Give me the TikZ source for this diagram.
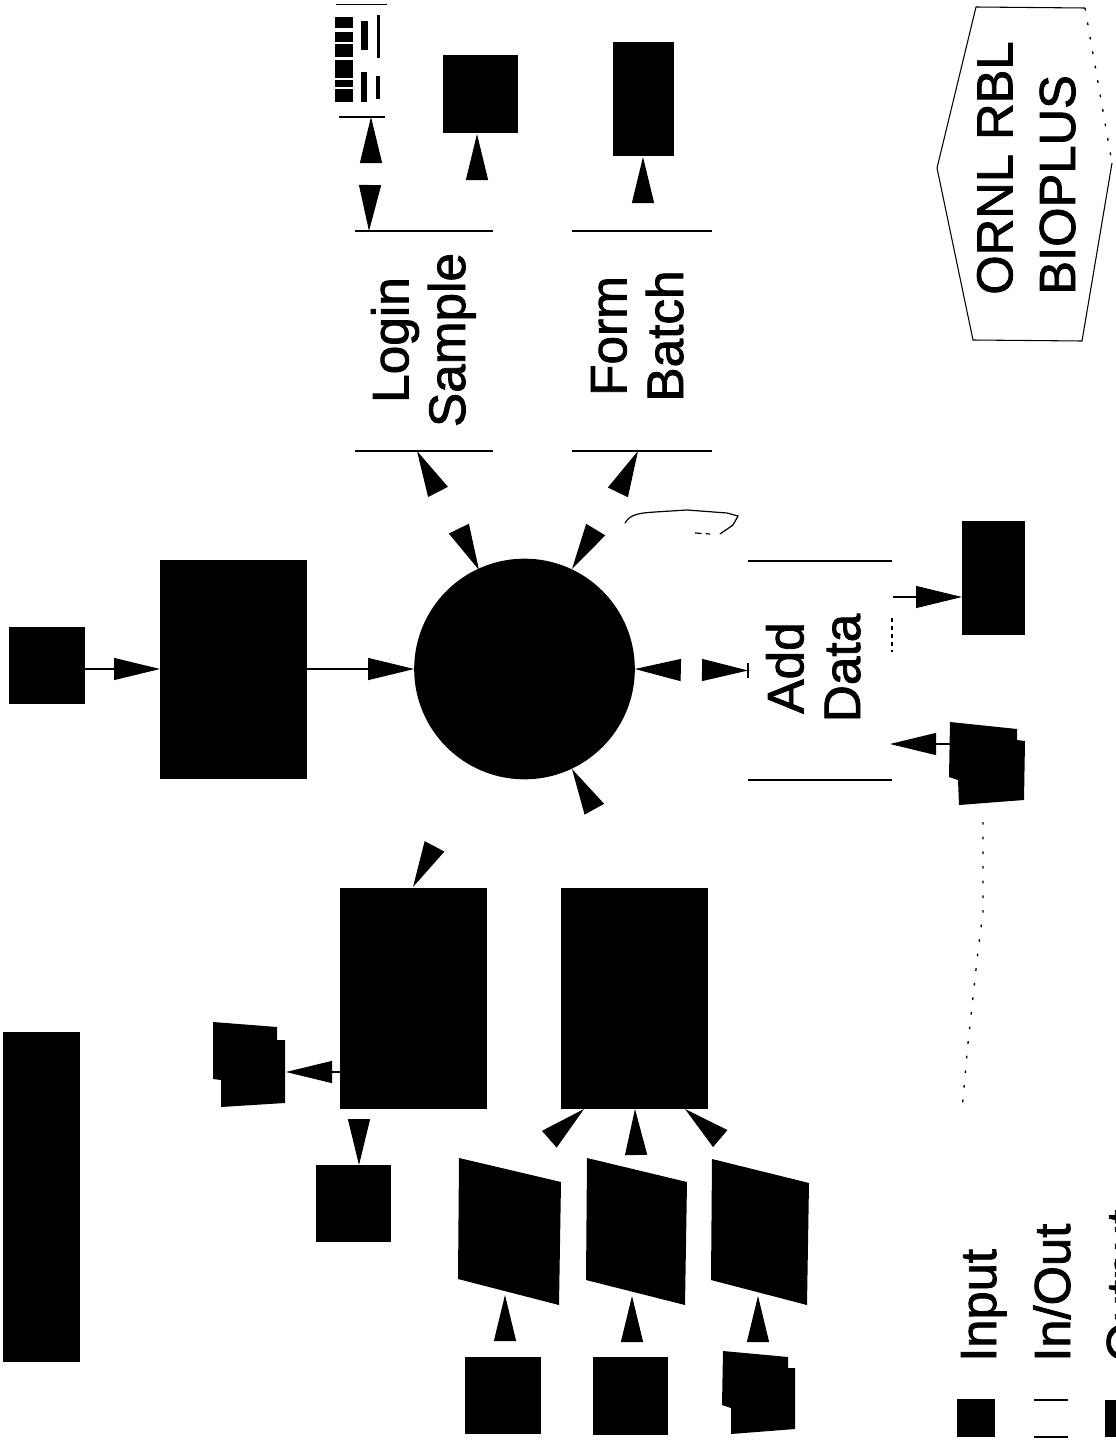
\documentclass[tikz,border=0pt]{standalone}
\usepackage{fontspec}
\setmainfont{Liberation Sans}
\newfontfamily\labelfont[FakeBold=1.6]{Liberation Sans}
\usetikzlibrary{arrows.meta,fit,calc}
\tikzset{
  bk/.style={fill=black,draw=none,inner sep=0pt,outer sep=0pt},
  poly/.style={fill=black,draw=none},
  hubshape/.style={circle,fill=black,draw=none,inner sep=0pt,outer sep=0pt,minimum size=165.5pt},
  barbox/.style={inner sep=0pt,outer sep=0pt,draw=none},
  barline/.style={black,line width=0.9pt},
  tri/.style={line width=0.8pt,-{Triangle[length=34.5pt,width=16.5pt]}},
  lbl/.style={rotate=90,anchor=base,align=center,inner sep=0pt,
    font=\labelfont\fontsize{38.5}{42.5}\selectfont},
  lgd/.style={rotate=90,anchor=base west,align=left,inner sep=0pt,
    font=\labelfont\fontsize{38}{47}\selectfont},
  thinline/.style={black,line width=0.8pt},
  faint/.style={black,line width=1pt,dash pattern=on 2pt off 9pt},
}
\begin{document}
\begin{tikzpicture}[x=0.75pt,y=-0.75pt]
\useasboundingbox (0,0) rectangle (1116,1445);
\clip (0,0) rectangle (1116,1445);

% --- black boxes
\node (bar)    [bk,fit={(3,1032)(80,1362)}] {};
\node (sensor) [bk,fit={(9,627)(85,704)}] {};
\node (big)    [bk,fit={(160,560)(307,779)}] {};
\node (hub)    [hubshape] at (524.5,669) {};
\node (boxa)   [bk,fit={(340,888)(487,1109)}] {};
\node (boxb)   [bk,fit={(561,888)(708,1109)}] {};
\node (small)  [bk,fit={(316,1165)(391,1242)}] {};
\node (inA)    [bk,fit={(465,1357)(541,1434)}] {};
\node (inB)    [bk,fit={(593,1357)(668,1435)}] {};
\node (loginbox) [bk,fit={(443,55)(518,133)}] {};
\node (batchbox) [bk,fit={(613,42)(674,156)}] {};
\node (outbox) [bk,fit={(962,521)(1025,635)}] {};

% --- parallelograms
\fill[poly] (459,1158) -- (561,1182) -- (559,1305) -- (458,1279) -- cycle;
\fill[poly] (587,1158) -- (687,1182) -- (685,1305) -- (586,1280) -- cycle;
\fill[poly] (712,1159) -- (809,1183) -- (807,1305) -- (711,1280) -- cycle;
% --- stacked sheets
\fill[poly] (213,1022) -- (277,1027) -- (277,1040) -- (285,1040) -- (285,1103) -- (221,1107) -- (221,1080) -- (213,1079) -- cycle;
\fill[poly] (723,1351) -- (788,1357) -- (788,1368) -- (795,1368) -- (795,1429) -- (731,1434) -- (731,1408) -- (722,1405) -- cycle;
\fill[poly] (950,722) -- (1017,729) -- (1017,740) -- (1025,741) -- (1024,800) -- (959,805) -- (958,780) -- (949,777) -- cycle;

% --- barcode
\foreach \a/\b in {17/28,32/42,44/57,60/78,80/87,89/102}
  \fill[poly] (335,\a) rectangle (353,\b);
\fill[poly] (361,21) rectangle (368,50);
\fill[poly] (361,72) rectangle (367,102);
\fill[poly] (377,15) rectangle (380,58);
\fill[poly] (376,76) rectangle (380,99);
\coordinate (sheetTL) at (336,4.5);
\coordinate (sheetTR) at (387,4.5);
\draw[barline] (sheetTL) -- (sheetTR);

% --- boxes drawn with only two bars
\node (login) [barbox,fit={(355,231)(493,451)}] {};
\node (form)  [barbox,fit={(572,231)(712,451)}] {};
\node (add)   [barbox,fit={(748,561)(892,780)}] {};
\foreach \n in {login,form,add}{
  \draw[barline] (\n.north west) -- (\n.north east);
  \draw[barline] (\n.south west) -- (\n.south east);
}
\coordinate (sheetBL) at (339,117);
\coordinate (sheetBR) at (385,117);
\draw[barline] (sheetBL) -- (sheetBR);

\node[lbl] at (465,340) {Login\\Sample};
\node[lbl] at (683,336) {Form\\Batch};
\node[lbl] at (860,668) {Add\\Data};

% --- hexagon
\coordinate (h1) at (976,7);
\coordinate (h2) at (1085,8);
\coordinate (h3) at (1112,163);
\coordinate (h4) at (1082,341);
\coordinate (h5) at (973,340);
\coordinate (h6) at (937,168);
\draw[thinline] (h2) -- (h1) -- (h6) -- (h5) -- (h4) -- (h3);
\draw[faint] (h2) -- (h3);
\node[lgd] at (1075,295) {ORNL RBL\\BIOPLUS};

% --- connectors with a stem
\draw[tri] (sensor.east |- hub.west) -- (big.west |- hub.west);
\draw[tri] (big.east |- hub.west) -- (hub.west);
\coordinate (addTap) at (893,597);
\draw[tri] (addTap) -- (outbox.west |- addTap);
\coordinate (stackOut) at (950,744);
\coordinate (addIn) at (890,744);
\draw[tri] (stackOut) -- (addIn);
\coordinate (boxaOut) at (340,1072);
\coordinate (stackIn) at (286,1072);
\draw[tri] (boxaOut) -- (stackIn);

% --- hub to add data, both ends
\coordinate (addMidA) at (680,670);
\coordinate (addMidB) at (703,670);
\draw[tri] (addMidA) -- (hub.east);
\draw[tri] (addMidB) -- (add.west);
\coordinate (barTop) at (748,663);
\coordinate (barBot) at (748,678);
\draw[barline] (barTop) -- (barBot);

% --- stemless heads
\foreach \ax/\ay/\bx/\by in {
  460/531/479/570,
  592.5/535/572/569,
  436/488/417/451,
  620/488/638/451,
  592/805/572/769,
  431/853/413/887,
  553/1136/584/1109,
  636/1152/635/1109,
  716/1135/685/1109,
  505/1339/505/1295,
  632/1339/632/1296,
  758/1339/758/1296,
  371/162/371/117,
  370/186/369/231,
  477/179/477/134,
  643/200/643/157,
  359/1121/359/1165
}{\draw[tri] (\ax,\ay) -- (\bx,\by);}

% --- faint traces
\coordinate (d1) at (983,822);
\coordinate (d2) at (983,912);
\coordinate (d3) at (978,951);
\coordinate (d4) at (968,1043);
\coordinate (d5) at (962,1110);
\draw[faint] (d1) -- (d2) -- (d3) -- (d4) -- (d5);
\coordinate (e1) at (892,618);
\coordinate (e2) at (892,652);
\draw[black,line width=0.8pt,dash pattern=on 3pt off 3pt] (e1) -- (e2);
\coordinate (s1) at (625,523);
\coordinate (s2) at (695,533);
\draw[black,line width=0.9pt,line cap=round]
  (s1) .. controls (630,514) and (640,513) .. (655,512)
  -- (687,510) -- (727,513) -- (738,516) -- (733,525) -- (720,534);
\draw[black,line width=0.9pt,dash pattern=on 5pt off 3pt] (s2) -- (710,534);

% --- legend
\node (k1) [bk,fit={(957,1399)(995,1437)}] {};
\node (k2) [barbox,fit={(1034,1400)(1068,1437)}] {};
\draw[barline] (k2.north west) -- (k2.north east);
\draw[barline] (k2.south west) -- (k2.south east);
\node (k3) [bk,fit={(1105,1400)(1143,1437)}] {};
\node[lgd] at (996,1362) {Input};
\node[lgd] at (1070,1362) {In/Out};
\node[lgd] at (1142,1362) {Output};
\end{tikzpicture}
\end{document}
